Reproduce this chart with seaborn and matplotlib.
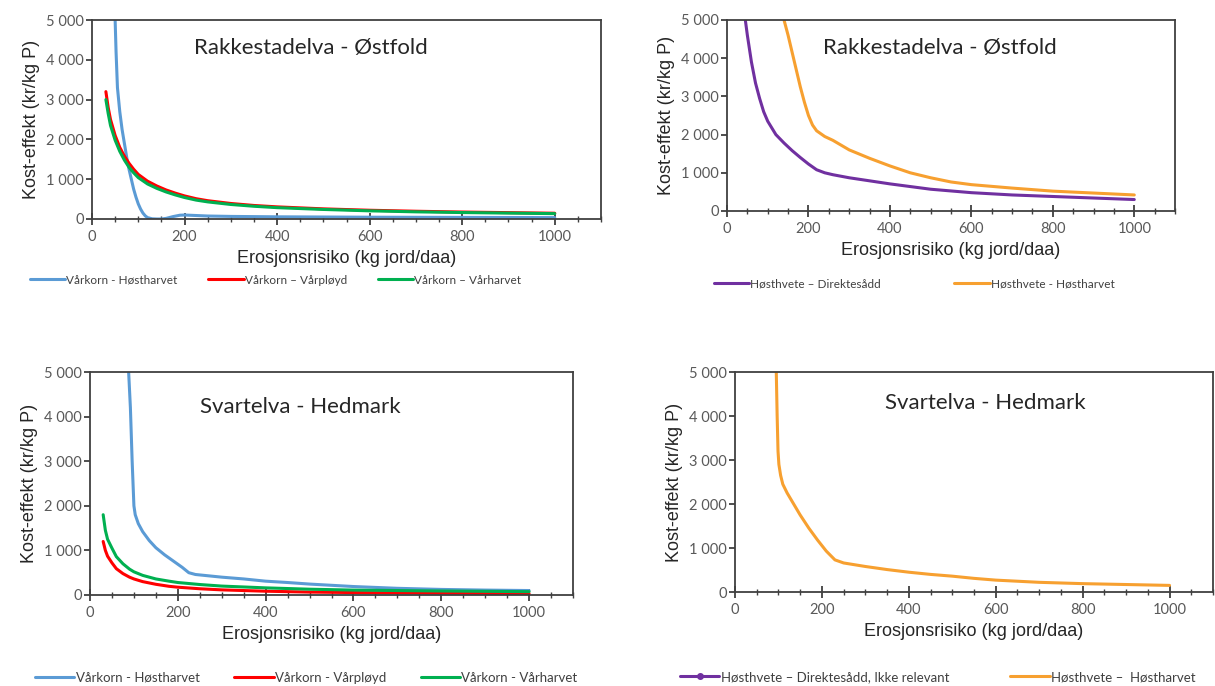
import pandas as pd
import matplotlib.pyplot as plt
import seaborn as sns
from matplotlib.ticker import MultipleLocator, FuncFormatter
from matplotlib.lines import Line2D

# Rakkestadelva - Østfold, Vårkorn
rk_host_x = [50, 52, 55, 60, 65, 70, 75, 80, 85, 90, 95, 100, 105, 110, 115, 120, 130, 140, 150,
             160, 175, 190, 200, 220, 250, 300, 400, 600, 800, 1000]
rk_host_y = [5000, 4200, 3300, 2700, 2250, 1900, 1550, 1250, 1000, 750, 550, 380, 250, 150, 80, 35,
             5, 0, 0, 15, 60, 95, 100, 90, 75, 65, 55, 45, 40, 35]
rk_varpl_x = [30, 35, 40, 50, 60, 70, 80, 90, 100, 120, 140, 160, 180, 200, 225, 250, 300, 350,
              400, 500, 600, 700, 800, 900, 1000]
rk_varpl_y = [3200, 2800, 2500, 2100, 1800, 1580, 1400, 1250, 1120, 950, 830, 730, 650, 580, 510,
              460, 390, 340, 305, 255, 220, 195, 175, 160, 145]
rk_varh_x = [30, 35, 40, 50, 60, 70, 80, 90, 100, 120, 140, 160, 180, 200, 225, 250, 300, 350,
             400, 500, 600, 700, 800, 900, 1000]
rk_varh_y = [3000, 2650, 2350, 1980, 1700, 1480, 1300, 1160, 1040, 880, 770, 680, 605, 540, 475,
             430, 365, 320, 285, 240, 205, 180, 162, 148, 135]

# Rakkestadelva - Østfold, Høsthvete
rk_dir_x = [45, 50, 60, 70, 80, 90, 100, 120, 140, 160, 180, 200, 220, 240, 260, 300, 350, 400,
            450, 500, 600, 700, 800, 900, 1000]
rk_dir_y = [5000, 4600, 3900, 3350, 2950, 2600, 2350, 2000, 1780, 1580, 1400, 1230, 1080, 1000,
            950, 870, 790, 710, 640, 570, 480, 420, 380, 340, 300]
rk_hh_x = [140, 150, 160, 170, 180, 190, 200, 210, 220, 240, 260, 300, 350, 400, 450, 500, 550,
           600, 700, 800, 900, 1000]
rk_hh_y = [5000, 4600, 4150, 3700, 3250, 2850, 2500, 2250, 2100, 1950, 1850, 1600, 1380, 1180,
           1000, 870, 760, 690, 600, 520, 470, 420]

# Svartelva - Hedmark, Vårkorn
sv_host_x = [88, 92, 96, 100, 103, 110, 120, 135, 150, 170, 190, 210, 225, 240, 270, 300, 350,
             400, 450, 500, 600, 700, 800, 900, 1000]
sv_host_y = [5000, 4200, 3000, 2000, 1800, 1600, 1420, 1220, 1060, 900, 760, 620, 500, 460, 430,
             400, 360, 310, 280, 245, 190, 150, 125, 110, 100]
sv_varpl_x = [30, 35, 40, 50, 60, 75, 90, 100, 120, 150, 180, 200, 250, 300, 400, 500, 600, 800, 1000]
sv_varpl_y = [1200, 1000, 870, 720, 590, 480, 400, 360, 300, 240, 195, 175, 140, 115, 85, 65, 55, 40, 30]
sv_varh_x = [30, 35, 40, 50, 60, 75, 90, 100, 120, 150, 180, 200, 250, 300, 400, 500, 600, 800, 1000]
sv_varh_y = [1800, 1450, 1250, 1050, 860, 700, 580, 520, 440, 360, 310, 280, 235, 200, 160, 130,
             110, 90, 75]

# Svartelva - Hedmark, Høsthvete
sv_hh_x = [95, 97, 99, 101, 105, 110, 120, 135, 150, 170, 190, 210, 230, 250, 300, 350, 400, 450,
           500, 550, 600, 700, 800, 900, 1000]
sv_hh_y = [5000, 4000, 3200, 2900, 2650, 2450, 2250, 2000, 1750, 1450, 1180, 930, 730, 660, 580,
           510, 450, 400, 360, 310, 270, 220, 190, 170, 150]

BLUE, RED, GREEN = "#5B9BD5", "#FF0000", "#00B050"
PURPLE, ORANGE = "#7030A0", "#F7A030"
GREY = "#404040"

sns.set_style("white")
plt.rcParams["font.family"] = ["Liberation Sans", "DejaVu Sans"]


def long_df(series):
    rows = []
    for name, xs, ys in series:
        for x, y in zip(xs, ys):
            rows.append({"serie": name, "x": x, "y": y})
    return pd.DataFrame(rows)


def style_axes(ax, title, tx, ty, xmax):
    ax.set_xlim(0, xmax)
    ax.set_ylim(0, 5000)
    ax.xaxis.set_major_locator(MultipleLocator(200))
    ax.xaxis.set_minor_locator(MultipleLocator(50))
    ax.yaxis.set_major_locator(MultipleLocator(1000))
    ax.yaxis.set_major_formatter(FuncFormatter(lambda v, p: f"{v:,.0f}".replace(",", " ")))
    ax.tick_params(axis="x", which="both", bottom=True)
    ax.tick_params(axis="y", which="major", left=True)
    ax.tick_params(axis="x", which="major", direction="inout", length=9, width=1.3,
                   colors=GREY, labelsize=10.5, labelcolor="#595959")
    ax.tick_params(axis="x", which="minor", direction="inout", length=5, width=1, colors=GREY)
    ax.tick_params(axis="y", which="major", direction="out", length=4, width=1.3,
                   colors=GREY, labelsize=10.5, labelcolor="#595959", pad=2)
    for lab in ax.get_xticklabels() + ax.get_yticklabels():
        lab.set_family(["Lato", "DejaVu Sans"])
    for s in ax.spines.values():
        s.set_color(GREY)
        s.set_linewidth(1.3)
    ax.set_xlabel("Erosjonsrisiko (kg jord/daa)", fontsize=13, color="#262626", labelpad=4)
    ax.set_ylabel("Kost-effekt (kr/kg P)", fontsize=13, color="#262626", labelpad=4)
    ax.text(tx, ty, title, transform=ax.transAxes, ha="center", va="center",
            fontsize=16, family=["Lato", "DejaVu Sans"], color="#262626")


def draw(ax, series, palette):
    df = long_df(series)
    sns.lineplot(data=df, x="x", y="y", hue="serie", palette=palette, sort=False,
                 estimator=None, linewidth=2.2, legend=False, ax=ax)


def add_legend(ax, handles, labels, anchor, fs, colsp):
    leg = ax.legend(handles, labels, loc="center left", bbox_to_anchor=anchor,
                    bbox_transform=ax.figure.transFigure, ncol=len(labels), frameon=False,
                    handlelength=3, handletextpad=0.1, columnspacing=colsp,
                    prop={"family": ["Lato", "DejaVu Sans"], "size": fs})
    for t in leg.get_texts():
        t.set_color(GREY)


fig = plt.figure(figsize=(12.15, 6.86), dpi=100)

# Panel 1
ax1 = fig.add_axes([92 / 1215, 1 - 219 / 686, 509 / 1215, 199 / 686])
names1 = ["Vårkorn - Høstharvet", "Vårkorn – Vårpløyd", "Vårkorn – Vårharvet"]
draw(ax1, [(names1[0], rk_host_x, rk_host_y), (names1[1], rk_varpl_x, rk_varpl_y),
           (names1[2], rk_varh_x, rk_varh_y)], [BLUE, RED, GREEN])
style_axes(ax1, "Rakkestadelva - Østfold", 0.43, 0.86, 1100)
add_legend(ax1, [Line2D([], [], color=c, lw=2.2) for c in (BLUE, RED, GREEN)], names1,
           (19 / 1215, 1 - 280 / 686), 8.5, 2.6)

# Panel 2
ax2 = fig.add_axes([727 / 1215, 1 - 211 / 686, 448 / 1215, 191 / 686])
names2 = ["Høsthvete – Direktesådd", "Høsthvete - Høstharvet"]
draw(ax2, [(names2[0], rk_dir_x, rk_dir_y), (names2[1], rk_hh_x, rk_hh_y)], [PURPLE, ORANGE])
style_axes(ax2, "Rakkestadelva - Østfold", 0.475, 0.855, 1100)
add_legend(ax2, [Line2D([], [], color=c, lw=2.2) for c in (PURPLE, ORANGE)], names2,
           (703 / 1215, 1 - 284 / 686), 8.5, 6.2)

# Panel 3
ax3 = fig.add_axes([90 / 1215, 1 - 595 / 686, 483 / 1215, 223 / 686])
names3 = ["Vårkorn - Høstharvet", "Vårkorn - Vårpløyd", "Vårkorn - Vårharvet"]
draw(ax3, [(names3[0], sv_host_x, sv_host_y), (names3[1], sv_varpl_x, sv_varpl_y),
           (names3[2], sv_varh_x, sv_varh_y)], [BLUE, RED, GREEN])
style_axes(ax3, "Svartelva - Hedmark", 0.435, 0.845, 1100)
add_legend(ax3, [Line2D([], [], color=c, lw=2.2) for c in (BLUE, RED, GREEN)], names3,
           (23 / 1215, 1 - 678 / 686), 9.5, 2.6)

# Panel 4
ax4 = fig.add_axes([735 / 1215, 1 - 592 / 686, 478 / 1215, 220 / 686])
names4 = ["Høsthvete – Direktesådd, Ikke relevant", "Høsthvete –  Høstharvet"]
draw(ax4, [(names4[1], sv_hh_x, sv_hh_y)], [ORANGE])
style_axes(ax4, "Svartelva - Hedmark", 0.523, 0.86, 1100)
add_legend(ax4, [Line2D([], [], color=PURPLE, lw=2.2, marker="o", markersize=4),
                 Line2D([], [], color=ORANGE, lw=2.2)], names4,
           (668 / 1215, 1 - 677 / 686), 9.5, 4.6)

fig.savefig("out.png", dpi=100)
